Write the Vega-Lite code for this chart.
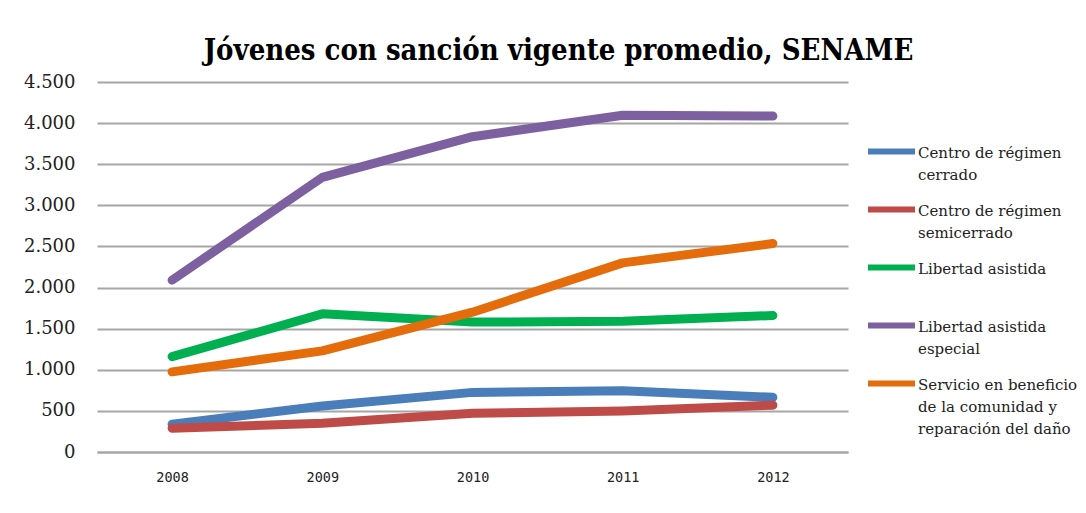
{
  "$schema": "https://vega.github.io/schema/vega-lite/v6.json",
  "autosize": {"type": "none"},
  "width": 751,
  "height": 370,
  "padding": {"left": 97, "top": 82, "right": 238, "bottom": 61},
  "background": "white",
  "title": {
    "text": "Jóvenes con sanción vigente promedio, SENAME",
    "font": "DejaVu Serif Condensed",
    "fontWeight": "bold",
    "fontSize": 29,
    "color": "#000000",
    "anchor": "middle",
    "baseline": "alphabetic",
    "offset": 21,
    "dx": 86,
    "dy": 37
  },
  "data": {
    "values": [
      {"serie": "Centro de régimen cerrado", "year": "2008", "value": 337},
      {"serie": "Centro de régimen cerrado", "year": "2009", "value": 560},
      {"serie": "Centro de régimen cerrado", "year": "2010", "value": 725},
      {"serie": "Centro de régimen cerrado", "year": "2011", "value": 745},
      {"serie": "Centro de régimen cerrado", "year": "2012", "value": 665},
      {"serie": "Centro de régimen semicerrado", "year": "2008", "value": 290},
      {"serie": "Centro de régimen semicerrado", "year": "2009", "value": 350},
      {"serie": "Centro de régimen semicerrado", "year": "2010", "value": 470},
      {"serie": "Centro de régimen semicerrado", "year": "2011", "value": 500},
      {"serie": "Centro de régimen semicerrado", "year": "2012", "value": 570},
      {"serie": "Libertad asistida", "year": "2008", "value": 1160},
      {"serie": "Libertad asistida", "year": "2009", "value": 1680},
      {"serie": "Libertad asistida", "year": "2010", "value": 1580},
      {"serie": "Libertad asistida", "year": "2011", "value": 1590},
      {"serie": "Libertad asistida", "year": "2012", "value": 1660},
      {"serie": "Libertad asistida especial", "year": "2008", "value": 2090},
      {"serie": "Libertad asistida especial", "year": "2009", "value": 3340},
      {"serie": "Libertad asistida especial", "year": "2010", "value": 3835},
      {"serie": "Libertad asistida especial", "year": "2011", "value": 4095},
      {"serie": "Libertad asistida especial", "year": "2012", "value": 4085},
      {"serie": "Servicio en beneficio de la comunidad y reparación del daño", "year": "2008", "value": 975},
      {"serie": "Servicio en beneficio de la comunidad y reparación del daño", "year": "2009", "value": 1230},
      {"serie": "Servicio en beneficio de la comunidad y reparación del daño", "year": "2010", "value": 1700},
      {"serie": "Servicio en beneficio de la comunidad y reparación del daño", "year": "2011", "value": 2300},
      {"serie": "Servicio en beneficio de la comunidad y reparación del daño", "year": "2012", "value": 2535}
    ]
  },
  "mark": {"type": "line", "strokeWidth": 9, "strokeCap": "round", "strokeJoin": "round"},
  "encoding": {
    "x": {
      "field": "year",
      "type": "ordinal",
      "scale": {"type": "point", "padding": 0.5},
      "axis": {
        "title": null,
        "labelAngle": 0,
        "labelFont": "DejaVu Sans Mono",
        "labelFontSize": 13.5,
        "labelColor": "#222222",
        "labelPadding": 18,
        "ticks": false,
        "domain": true,
        "domainColor": "#a6a6a6",
        "domainWidth": 2,
        "grid": false
      }
    },
    "y": {
      "field": "value",
      "type": "quantitative",
      "scale": {"domain": [0, 4500], "nice": false},
      "axis": {
        "title": null,
        "values": [0, 500, 1000, 1500, 2000, 2500, 3000, 3500, 4000, 4500],
        "labelExpr": "replace(format(datum.value, ','), ',', '.')",
        "labelFont": "DejaVu Serif",
        "labelFontSize": 18,
        "labelColor": "#222222",
        "labelPadding": 22,
        "ticks": false,
        "domain": false,
        "grid": true,
        "gridColor": "#a6a6a6",
        "gridWidth": 2
      }
    },
    "color": {
      "field": "serie",
      "type": "nominal",
      "scale": {
        "domain": [
          "Centro de régimen cerrado",
          "Centro de régimen semicerrado",
          "Libertad asistida",
          "Libertad asistida especial",
          "Servicio en beneficio de la comunidad y reparación del daño"
        ],
        "range": ["#4a7ebb", "#be4b48", "#00b050", "#7d60a0", "#e46c0a"]
      },
      "legend": {
        "title": null,
        "orient": "none",
        "legendX": 768,
        "legendY": 43,
        "padding": 0,
        "symbolType": "stroke",
        "symbolSize": 2209,
        "symbolStrokeWidth": 6,
        "labelOffset": 0,
        "labelFont": "DejaVu Serif",
        "labelFontSize": 15,
        "labelColor": "#222222",
        "labelBaseline": "alphabetic",
        "labelLimit": 300,
        "rowPadding": 0,
        "encode": {
          "labels": {
            "update": {
              "lineHeight": {"value": 22},
              "dy": {"value": 6}
            }
          }
        },
        "labelExpr": "datum.label == 'Centro de régimen cerrado' ? ['Centro de régimen', 'cerrado'] : datum.label == 'Centro de régimen semicerrado' ? ['Centro de régimen', 'semicerrado'] : datum.label == 'Libertad asistida' ? ['Libertad asistida', ' '] : datum.label == 'Libertad asistida especial' ? ['Libertad asistida', 'especial'] : ['Servicio en beneficio', 'de la comunidad y', 'reparación del daño']"
      }
    }
  },
  "config": {
    "view": {"stroke": null}
  }
}
